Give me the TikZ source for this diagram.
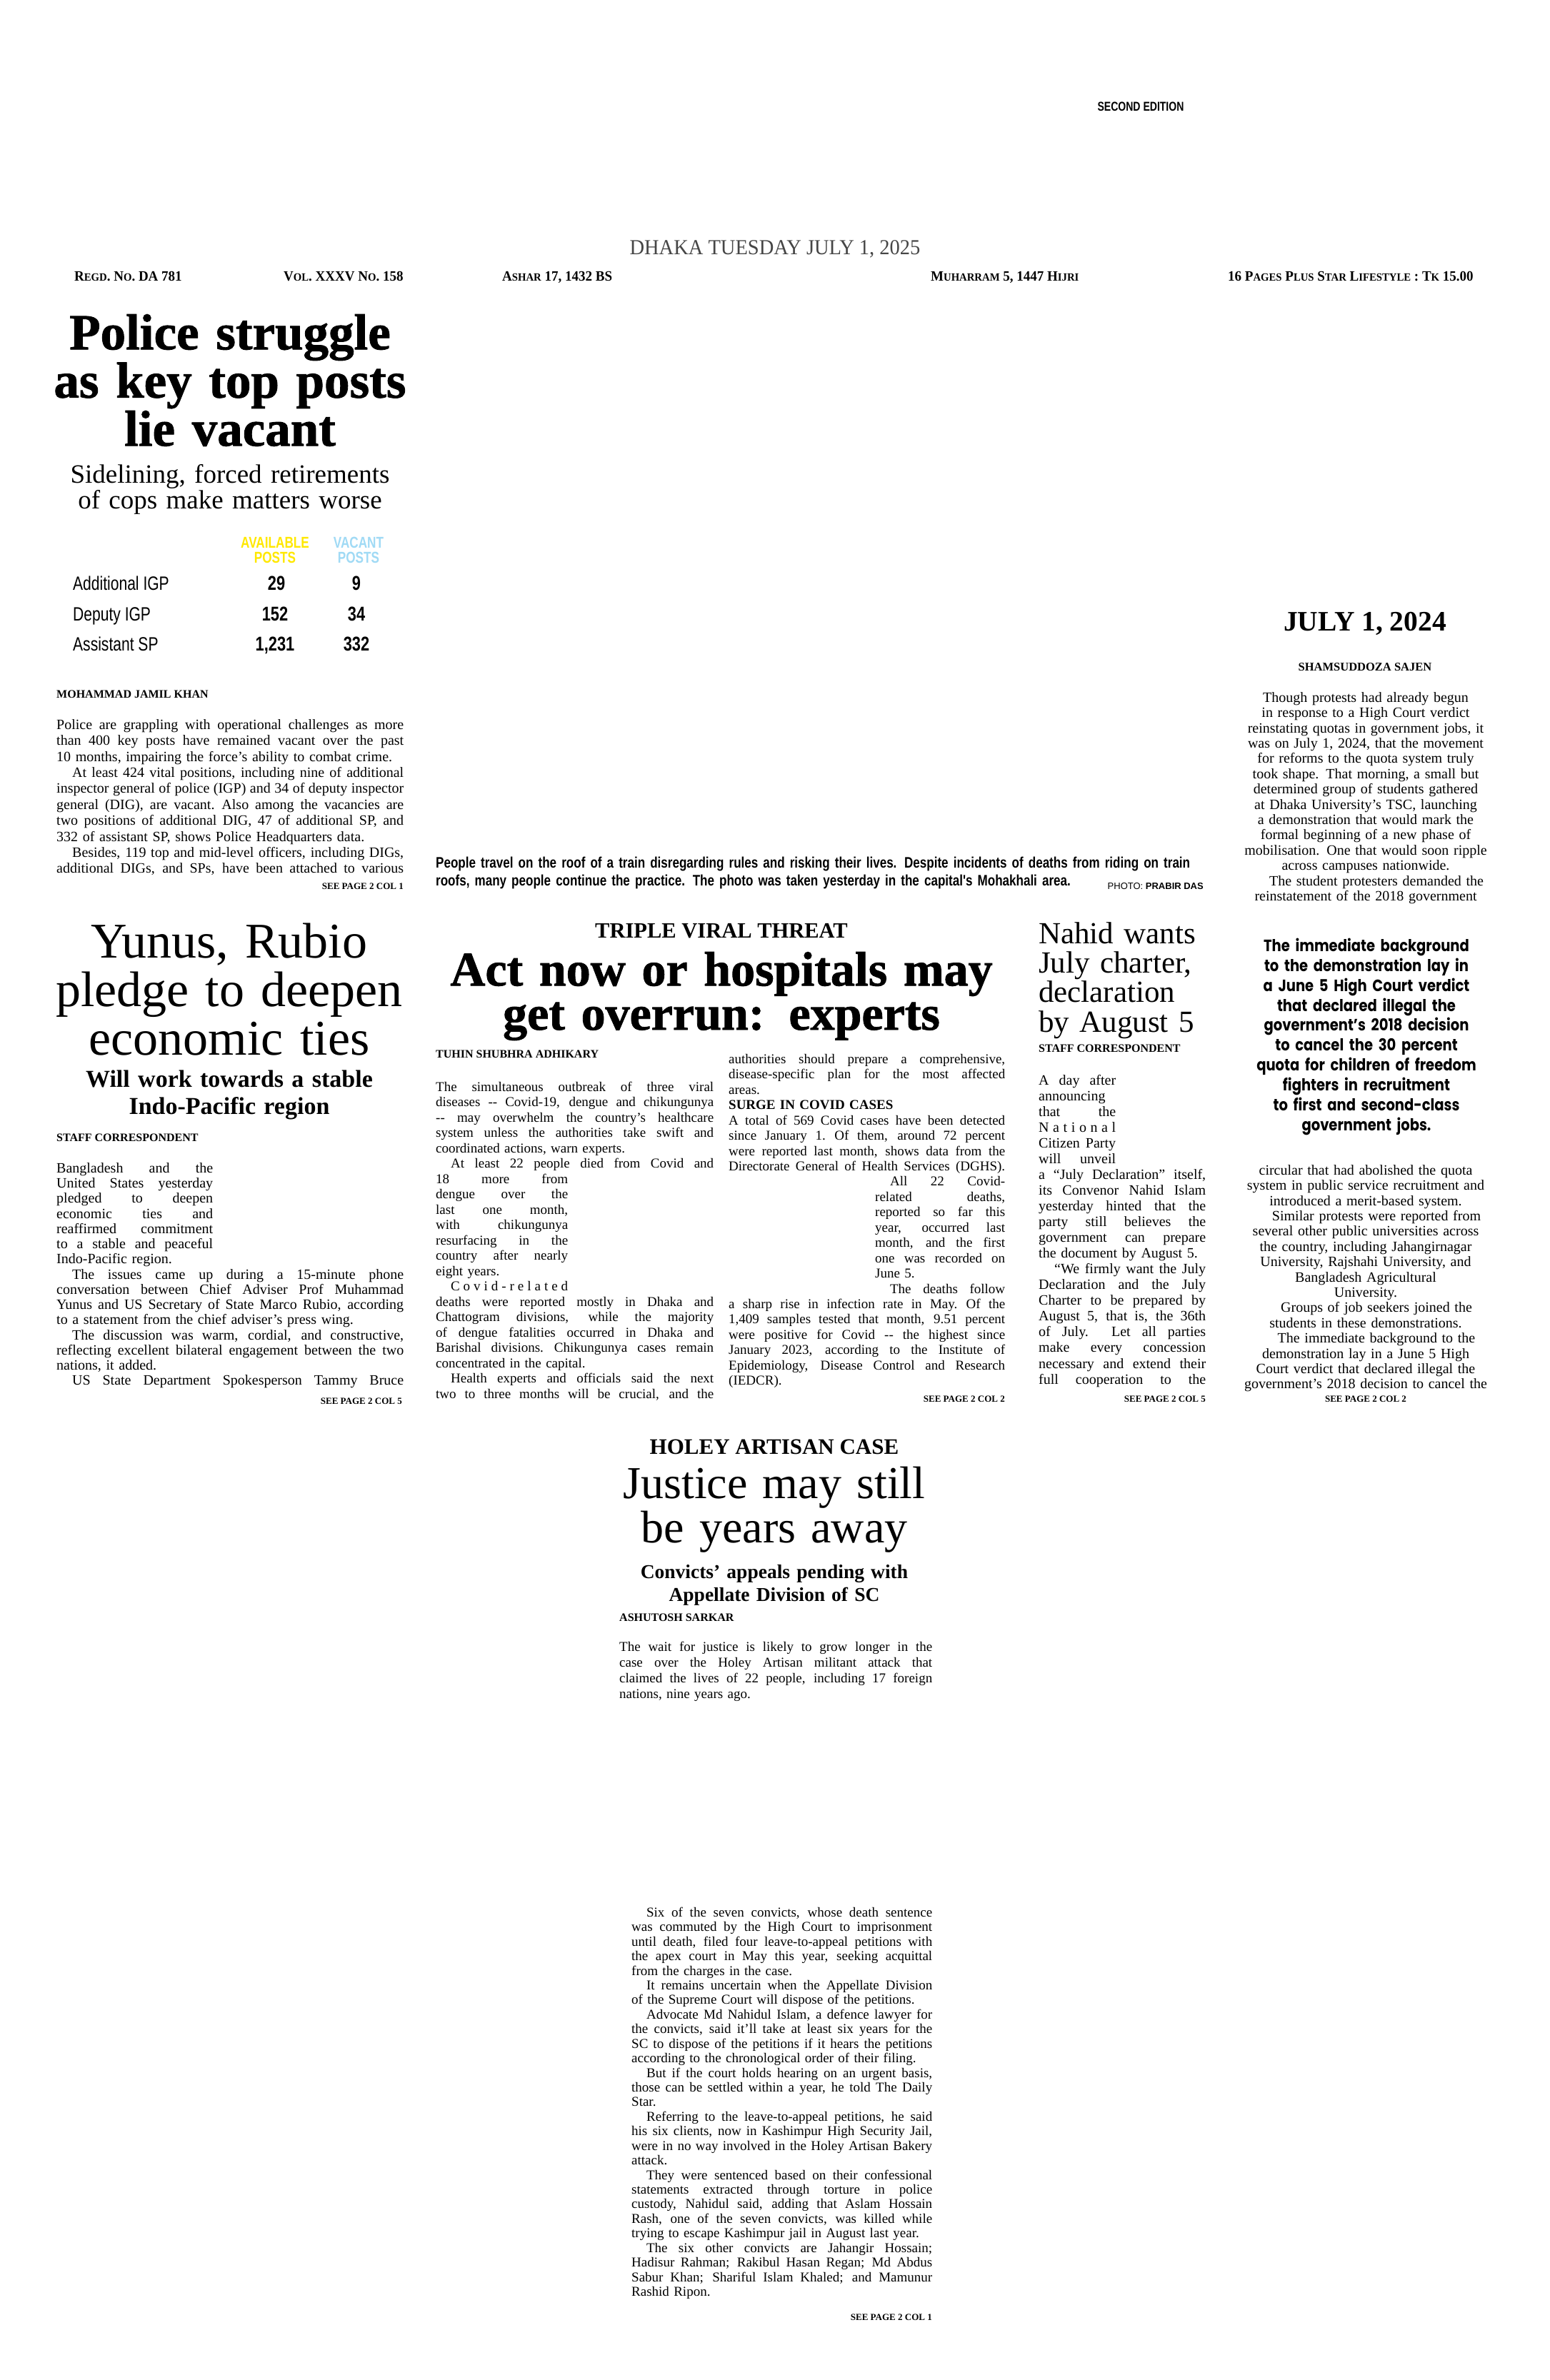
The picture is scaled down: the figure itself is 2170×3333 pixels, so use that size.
\documentclass[tikz,border=0pt]{standalone}
\usepackage{fontspec}
\setmainfont{Liberation Serif}
\newfontfamily\sansnarrow{Liberation Sans}[FakeStretch=0.78]
\newfontfamily\capfont{Liberation Sans}[FakeStretch=0.8]
\newfontfamily\sansplain{Liberation Sans}
\newfontfamily\serifnarrow{Liberation Serif}[FakeStretch=0.95]
\newfontfamily\blackserif{Liberation Serif}[BoldFeatures={FakeBold=1.2}]
\newfontfamily\quotefont{Poppins}[FakeStretch=0.85]
\usetikzlibrary{positioning}
\definecolor{STAR-YELLOW}{RGB}{255,232,0}
\definecolor{STAR-BLUE}{RGB}{160,218,245}
\definecolor{DATE-GREY}{RGB}{70,70,70}

\newcommand\fs[2]{\fontsize{#1}{#2}\selectfont}
\newcommand\loosesp{\spaceskip=.25em plus 3em minus .06em\xspaceskip=.3em plus 3em minus .06em\relax}
\newcommand\jl[2][\linewidth]{\noindent\makebox[#1][s]{\loosesp#2}\par}
\newcommand\el[1]{\noindent#1\par}
\newcommand\jr[2][182pt]{\noindent\hfill\makebox[#1][s]{\loosesp#2}\par}
\newcommand\er[2][182pt]{\noindent\hfill\makebox[#1][l]{#2}\par}
\newcommand\ind{\hspace*{1.1em}}
\newcommand\sm[1]{{\fontsize{15.5}{15.5}\selectfont #1}}

\tikzset{
  body/.style={anchor=mid west,inner sep=0pt,font=\fs{20}{22.4}},
  byline/.style={anchor=mid west,inner sep=0pt,font=\bfseries\fs{16}{16}},
  seepage/.style={anchor=mid east,inner sep=0pt,font=\bfseries\fs{13}{13}},
  headrow/.style={anchor=mid west,inner sep=0pt,font=\serifnarrow\bfseries\fs{20}{20}},
  headline/.style={anchor=mid,inner sep=0pt,align=center},
  rowlabel/.style={anchor=mid west,inner sep=0pt,font=\sansnarrow\fs{27}{27}},
  rownum/.style={anchor=mid,inner sep=0pt,font=\sansnarrow\bfseries\fs{28}{28}}
}

\begin{document}
\begin{tikzpicture}[x=1pt,y=-1pt]
  % page
  \fill[white] (0,0) rectangle (2170,3333);
  \useasboundingbox (0,0) rectangle (2170,3333);

  % draw masthead lines
  \node[anchor=mid,inner sep=0pt,font=\sansnarrow\bfseries\fs{18}{18}] (sec_ed) at (1597,153) {SECOND EDITION};
  \node[anchor=mid,inner sep=0pt,text=DATE-GREY,font=\serifnarrow\fs{30}{30}] (date_line) at (1085,354) {DHAKA TUESDAY JULY 1, 2025};
  \node[headrow] (regd) at (104,391) {R\sm{EGD}. N\sm{O}. DA 781};
  \node[headrow] (vol) at (397,391) {V\sm{OL}. XXXV N\sm{O}. 158};
  \node[headrow] (ashar) at (703,391) {A\sm{SHAR} 17, 1432 BS};
  \node[headrow] (hijri) at (1303,391) {M\sm{UHARRAM} 5, 1447 H\sm{IJRI}};
  \node[headrow] (price) at (1719,391) {16 P\sm{AGES} P\sm{LUS} S\sm{TAR} L\sm{IFESTYLE} : T\sm{K} 15.00};

  % draw police story
  \node[headline,text width=560pt,font=\blackserif\bfseries\fs{71}{67.5}] (police_head) at (322,487)
    {Police struggle\\as key top posts\\lie vacant};
  \node[headline,text width=520pt,font=\fs{37}{36}] (police_sub) at (322,674)
    {Sidelining, forced retirements\\of cops make matters worse};
  \node[headline,text width=120pt,text=STAR-YELLOW,font=\sansnarrow\bfseries\fs{22}{21}] (tab_avail) at (385,765) {AVAILABLE\\POSTS};
  \node[headline,text width=120pt,text=STAR-BLUE,font=\sansnarrow\bfseries\fs{22}{21}] (tab_vacant) at (502,765) {VACANT\\POSTS};
  \node[rowlabel] (row_addl) at (102,824) {Additional IGP};
  \node[rowlabel] (row_dep) at (102,867) {Deputy IGP};
  \node[rowlabel] (row_asst) at (102,909) {Assistant SP};
  \node[rownum] (addl_av) at (387,824) {29};
  \node[rownum] (addl_vac) at (499,824) {9};
  \node[rownum] (dep_av) at (385,867) {152};
  \node[rownum] (dep_vac) at (499,867) {34};
  \node[rownum] (asst_av) at (385,909) {1,231};
  \node[rownum] (asst_vac) at (499,909) {332};
  \node[byline] (police_by) at (79,975) {MOHAMMAD JAMIL KHAN};
  \node[body,text width=486pt] (police_body) at (79,1019) {%
    \jl{Police are grappling with operational challenges as more}
    \jl{than 400 key posts have remained vacant over the past}
    \el{10 months, impairing the force's ability to combat crime.}
    \jl{\ind At least 424 vital positions, including nine of additional}
    \jl{inspector general of police (IGP) and 34 of deputy inspector}
    \jl{general (DIG), are vacant. Also among the vacancies are}
    \jl{two positions of additional DIG, 47 of additional SP, and}
    \el{332 of assistant SP, shows Police Headquarters data.}
    \jl{\ind Besides, 119 top and mid-level officers, including DIGs,}
    \jl{additional DIGs, and SPs, have been attached to various}};
  \node[seepage] (police_see) at (565,1243) {SEE PAGE 2 COL 1};

  % draw photo caption
  \node[anchor=mid west,inner sep=0pt,text width=1100pt,align=left,font=\capfont\bfseries\fs{21.3}{25.5}] (caption) at (610,1213)
    {People travel on the roof of a train disregarding rules and risking their lives. Despite incidents of deaths from riding on train\\
     roofs, many people continue the practice. The photo was taken yesterday in the capital's Mohakhali area.};
  \node[anchor=mid east,inner sep=0pt,font=\sansplain\fs{13}{13}] (credit) at (1685,1243) {PHOTO: \textbf{PRABIR DAS}};

  % draw july 1 column
  \node[headline,font=\bfseries\fs{39.5}{39.5}] (july_head) at (1911,881) {JULY 1, 2024};
  \node[headline,font=\bfseries\fs{16.5}{16.5}] (july_by) at (1911,937) {SHAMSUDDOZA SAJEN};
  \node[headline,text width=380pt,font=\fs{20}{21.4}] (july_body) at (1912,981)
    {Though protests had already begun\\in response to a High Court verdict\\
     reinstating quotas in government jobs, it\\was on July 1, 2024, that the movement\\
     for reforms to the quota system truly\\took shape. That morning, a small but\\
     determined group of students gathered\\at Dhaka University's TSC, launching\\
     a demonstration that would mark the\\formal beginning of a new phase of\\
     mobilisation. One that would soon ripple\\across campuses nationwide.\\
     \hspace*{1.5em}The student protesters demanded the\\reinstatement of the 2018 government};
  \node[headline,text width=380pt,font=\quotefont\bfseries\fs{23}{27.9}] (july_quote) at (1913,1330)
    {The immediate background\\to the demonstration lay in\\a June 5 High Court verdict\\
     that declared illegal the\\government’s 2018 decision\\to cancel the 30 percent\\
     quota for children of freedom\\fighters in recruitment\\to first and second-class\\government jobs.};
  \node[headline,text width=380pt,font=\fs{20}{21.4}] (july_more) at (1912,1643)
    {circular that had abolished the quota\\system in public service recruitment and\\
     introduced a merit-based system.\\\hspace*{1.5em}Similar protests were reported from\\
     several other public universities across\\the country, including Jahangirnagar\\
     University, Rajshahi University, and\\Bangladesh Agricultural\\University.\\
     \hspace*{1.5em}Groups of job seekers joined the\\students in these demonstrations.\\
     \hspace*{1.5em}The immediate background to the\\demonstration lay in a June 5 High\\
     Court verdict that declared illegal the\\government's 2018 decision to cancel the};
  \node[headline,font=\bfseries\fs{13}{13}] (july_see) at (1912,1961) {SEE PAGE 2 COL 2};

  % draw yunus story
  \node[headline,text width=540pt,font=\fs{70}{68}] (yunus_head) at (321,1339)
    {Yunus, Rubio\\pledge to deepen\\economic ties};
  \node[headline,text width=500pt,font=\bfseries\fs{34}{38.3}] (yunus_sub) at (321,1520)
    {Will work towards a stable\\Indo-Pacific region};
  \node[byline] (yunus_by) at (79,1596) {STAFF CORRESPONDENT};
  \node[body,text width=486pt,font=\fs{20}{21.25}] (yunus_body) at (79,1640) {%
    \jl[219pt]{Bangladesh and the}
    \jl[219pt]{United States yesterday}
    \jl[219pt]{pledged to deepen}
    \jl[219pt]{economic ties and}
    \jl[219pt]{reaffirmed commitment}
    \jl[219pt]{to a stable and peaceful}
    \el{Indo-Pacific region.}
    \jl{\ind The issues came up during a 15-minute phone}
    \jl{conversation between Chief Adviser Prof Muhammad}
    \jl{Yunus and US Secretary of State Marco Rubio, according}
    \el{to a statement from the chief adviser's press wing.}
    \jl{\ind The discussion was warm, cordial, and constructive,}
    \jl{reflecting excellent bilateral engagement between the two}
    \el{nations, it added.}
    \jl{\ind US State Department Spokesperson Tammy Bruce}};
  \node[seepage] (yunus_see) at (563,1964) {SEE PAGE 2 COL 5};

  % draw viral threat story
  \node[headline,font=\bfseries\fs{30.5}{30.5}] (viral_kicker) at (1010,1311) {TRIPLE VIRAL THREAT};
  \node[headline,text width=860pt,font=\blackserif\bfseries\fs{68}{61.7}] (viral_head) at (1010,1378)
    {Act now or hospitals may\\get overrun: experts};
  \node[byline] (viral_by) at (610,1479) {TUHIN SHUBHRA ADHIKARY};
  \node[body,text width=389pt,font=\fs{19}{21.5}] (viral_left) at (610,1526) {%
    \jl{The simultaneous outbreak of three viral}
    \jl{diseases -{}- Covid-19, dengue and chikungunya}
    \jl{-{}- may overwhelm the country's healthcare}
    \jl{system unless the authorities take swift and}
    \el{coordinated actions, warn experts.}
    \jl{\ind At least 22 people died from Covid and}
    \jl[185pt]{18 more from}
    \jl[185pt]{dengue over the}
    \jl[185pt]{last one month,}
    \jl[185pt]{with chikungunya}
    \jl[185pt]{resurfacing in the}
    \jl[185pt]{country after nearly}
    \el{eight years.}
    \jl[185pt]{\ind C\hfill o\hfill v\hfill i\hfill d\hfill -\hfill r\hfill e\hfill l\hfill a\hfill t\hfill e\hfill d}
    \jl{deaths were reported mostly in Dhaka and}
    \jl{Chattogram divisions, while the majority}
    \jl{of dengue fatalities occurred in Dhaka and}
    \jl{Barishal divisions. Chikungunya cases remain}
    \el{concentrated in the capital.}
    \jl{\ind Health experts and officials said the next}
    \jl{two to three months will be crucial, and the}};
  \node[body,text width=387pt,font=\fs{19}{21.45}] (viral_right) at (1020,1487) {%
    \jl{authorities should prepare a comprehensive,}
    \jl{disease-specific plan for the most affected}
    \el{areas.}
    \el{\textbf{SURGE IN COVID CASES}}
    \jl{A total of 569 Covid cases have been detected}
    \jl{since January 1. Of them, around 72 percent}
    \jl{were reported last month, shows data from the}
    \jl{Directorate General of Health Services (DGHS).}
    \jr{\ind All 22 Covid-}
    \jr{related deaths,}
    \jr{reported so far this}
    \jr{year, occurred last}
    \jr{month, and the first}
    \jr{one was recorded on}
    \er{June 5.}
    \jr{\ind The deaths follow}
    \jl{a sharp rise in infection rate in May. Of the}
    \jl{1,409 samples tested that month, 9.51 percent}
    \jl{were positive for Covid -{}- the highest since}
    \jl{January 2023, according to the Institute of}
    \jl{Epidemiology, Disease Control and Research}
    \el{(IEDCR).}};
  \node[seepage] (viral_see) at (1407,1961) {SEE PAGE 2 COL 2};

  % draw nahid story
  \node[anchor=mid west,inner sep=0pt,text width=240pt,align=left,font=\fs{43}{41.3}] (nahid_head) at (1454,1319)
    {Nahid wants\\July charter,\\declaration\\by August 5};
  \node[byline] (nahid_by) at (1454,1471) {STAFF CORRESPONDENT};
  \node[body,text width=234pt,font=\fs{20}{22.04}] (nahid_body) at (1454,1517) {%
    \jl[108pt]{A day after}
    \jl[108pt]{announcing}
    \jl[108pt]{that the}
    \jl[108pt]{N\hfill a\hfill t\hfill i\hfill o\hfill n\hfill a\hfill l}
    \jl[108pt]{Citizen Party}
    \jl[108pt]{will unveil}
    \jl{a “July Declaration” itself,}
    \jl{its Convenor Nahid Islam}
    \jl{yesterday hinted that the}
    \jl{party still believes the}
    \jl{government can prepare}
    \el{the document by August 5.}
    \jl{\ind “We firmly want the July}
    \jl{Declaration and the July}
    \jl{Charter to be prepared by}
    \jl{August 5, that is, the 36th}
    \jl{of July.\ \ Let all parties}
    \jl{make every concession}
    \jl{necessary and extend their}
    \jl{full cooperation to the}};
  \node[seepage] (nahid_see) at (1688,1961) {SEE PAGE 2 COL 5};

  % draw holey artisan story
  \node[headline,font=\bfseries\fs{31}{31}] (holey_kicker) at (1084,2034) {HOLEY ARTISAN CASE};
  \node[headline,text width=560pt,font=\fs{64}{61.7}] (holey_head) at (1084,2096)
    {Justice may still\\be years away};
  \node[headline,text width=500pt,font=\bfseries\fs{27.5}{31.9}] (holey_sub) at (1084,2208)
    {Convicts’ appeals pending with\\Appellate Division of SC};
  \node[byline] (holey_by) at (867,2268) {ASHUTOSH SARKAR};
  \node[body,text width=438pt,font=\fs{19}{22}] (holey_intro) at (867,2310) {%
    \jl{The wait for justice is likely to grow longer in the}
    \jl{case over the Holey Artisan militant attack that}
    \jl{claimed the lives of 22 people, including 17 foreign}
    \el{nations, nine years ago.}};
  \node[body,text width=421pt,font=\fs{19}{20.43}] (holey_body) at (884,2682) {%
    \jl{\ind Six of the seven convicts, whose death sentence}
    \jl{was commuted by the High Court to imprisonment}
    \jl{until death, filed four leave-to-appeal petitions with}
    \jl{the apex court in May this year, seeking acquittal}
    \el{from the charges in the case.}
    \jl{\ind It remains uncertain when the Appellate Division}
    \el{of the Supreme Court will dispose of the petitions.}
    \jl{\ind Advocate Md Nahidul Islam, a defence lawyer for}
    \jl{the convicts, said it'll take at least six years for the}
    \jl{SC to dispose of the petitions if it hears the petitions}
    \el{according to the chronological order of their filing.}
    \jl{\ind But if the court holds hearing on an urgent basis,}
    \jl{those can be settled within a year, he told The Daily}
    \el{Star.}
    \jl{\ind Referring to the leave-to-appeal petitions, he said}
    \jl{his six clients, now in Kashimpur High Security Jail,}
    \jl{were in no way involved in the Holey Artisan Bakery}
    \el{attack.}
    \jl{\ind They were sentenced based on their confessional}
    \jl{statements extracted through torture in police}
    \jl{custody, Nahidul said, adding that Aslam Hossain}
    \jl{Rash, one of the seven convicts, was killed while}
    \el{trying to escape Kashimpur jail in August last year.}
    \jl{\ind The six other convicts are Jahangir Hossain;}
    \jl{Hadisur Rahman; Rakibul Hasan Regan; Md Abdus}
    \jl{Sabur Khan; Shariful Islam Khaled; and Mamunur}
    \el{Rashid Ripon.}};
  \node[seepage] (holey_see) at (1305,3247) {SEE PAGE 2 COL 1};
\end{tikzpicture}
\end{document}
